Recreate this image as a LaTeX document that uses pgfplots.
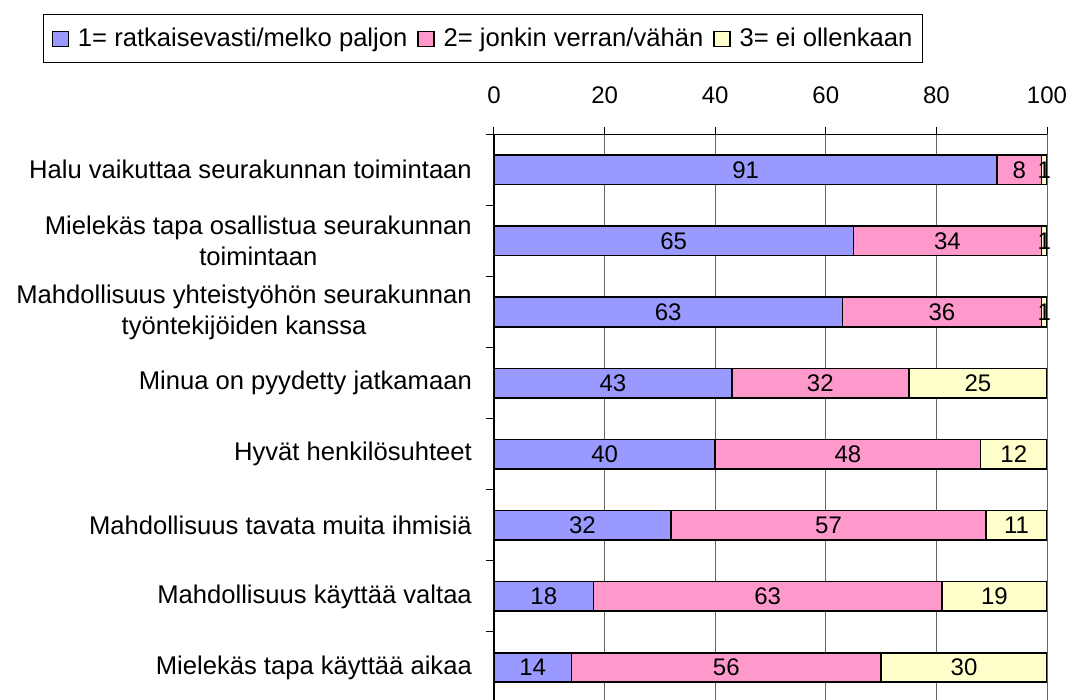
\documentclass[border=0pt]{standalone}
\usepackage{fontspec}
\setmainfont{Liberation Sans}
\usepackage{pgfplots}
\usepackage{pgfplotstable}
\pgfplotsset{compat=1.18}
\definecolor{cblue}{RGB}{153,153,255}
\definecolor{cpink}{RGB}{255,153,204}
\definecolor{cyellow}{RGB}{255,255,204}
\pgfplotstableread{
y a b c
7 91 8 1
6 65 34 1
5 63 36 1
4 43 32 25
3 40 48 12
2 32 57 11
1 18 63 19
0 14 56 30
}\data
\begin{document}
\fontsize{24}{29}\selectfont
\begin{tikzpicture}
\useasboundingbox (0,0) rectangle (1071pt,700pt);
\begin{axis}[
  at={(494pt,-3.1pt)}, anchor=south west,
  scale only axis, width=553pt, height=568.8pt,
  xbar stacked, bar width=29.5pt,
  xmin=0, xmax=100, ymin=-0.5, ymax=7.5,
  axis x line*=top, axis y line*=left,
  axis line style={-, line width=1.3pt, black},
  /pgf/number format/assume math mode=true,
  xtick={0,20,...,100},
  tick align=outside,
  major tick length=7pt,
  minor tick length=8pt,
  tick style={black, line width=1pt},
  xmajorgrids, grid style={gray!80!black, line width=0.9pt},
  ytick={0,...,7},
  minor ytick={-0.5,0.5,...,7.5},
  major y tick style={draw=none},
  yticklabels={{Mielekäs tapa käyttää aikaa},{Mahdollisuus käyttää valtaa},{Mahdollisuus tavata muita ihmisiä},{Hyvät henkilösuhteet},{Minua on pyydetty jatkamaan},{Mahdollisuus yhteistyöhön seurakunnan\\työntekijöiden kanssa},{Mielekäs tapa osallistua seurakunnan\\toimintaan},{Halu vaikuttaa seurakunnan toimintaan}},
  yticklabel style={align=center, xshift=-7pt, font=\fontsize{25.6}{31}\selectfont},
  xticklabel style={yshift=15pt, font=\fontsize{24}{29}\selectfont},
  legend style={at={(-0.8152,1.2115)}, anchor=north west, legend columns=3, draw=black, line width=1.2pt,
    font=\fontsize{25.6}{31}\selectfont, inner xsep=8pt, inner ysep=11pt,
    /tikz/every odd column/.append style={column sep=7pt},
    /tikz/every even column/.append style={column sep=8pt}},
  legend image code/.code={\draw[#1,line width=1.2pt] (0pt,-7.5pt) rectangle (16pt,7.5pt);},
  nodes near coords={\pgfmathprintnumber{\pgfplotspointmeta}},
  every node near coord/.append style={anchor=center, font=\fontsize{24}{29}\selectfont},
]
\addplot[fill=cblue, draw=black, line width=1.6pt] table[x=a, y=y, meta=a] {\data};
\addplot[fill=cpink, draw=black, line width=1.6pt] table[x=b, y=y, meta=b] {\data};
\addplot[fill=cyellow, draw=black, line width=1.6pt] table[x=c, y=y, meta=c] {\data};
\legend{1= ratkaisevasti/melko paljon, 2= jonkin verran/vähän, 3= ei ollenkaan}
\end{axis}
\end{tikzpicture}
\end{document}
